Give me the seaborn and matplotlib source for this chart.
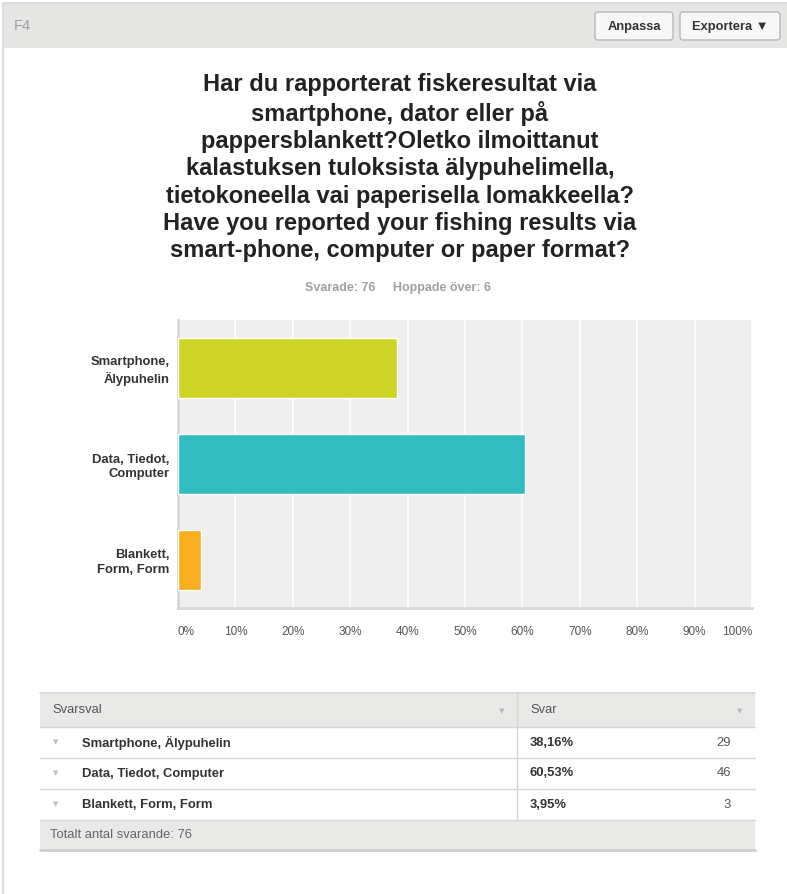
# survey result panel: horizontal bars + summary table
import matplotlib
matplotlib.use("Agg")
import matplotlib.pyplot as plt
import seaborn as sns
import pandas as pd
from matplotlib.patches import Rectangle, FancyBboxPatch
from matplotlib.lines import Line2D

# data
categories = ["Smartphone,\nÄlypuhelin", "Data, Tiedot,\nComputer", "Blankett,\nForm, Form"]
row_labels = ["Smartphone, Älypuhelin", "Data, Tiedot, Computer", "Blankett, Form, Form"]
percents = [38.16, 60.53, 3.95]
counts = [29, 46, 3]
bar_colors = ["#cfd527", "#33bdbf", "#f7ae1f"]
xticks = [0, 10, 20, 30, 40, 50, 60, 70, 80, 90, 100]
title = ("Har du rapporterat fiskeresultat via\nsmartphone, dator eller på\n"
         "pappersblankett?Oletko ilmoittanut\nkalastuksen tuloksista älypuhelimella,\n"
         "tietokoneella vai paperisella lomakkeella?\nHave you reported your fishing results via\n"
         "smart-phone, computer or paper format?")
answered = 76
skipped = 6

W, H = 787, 894

sns.set_theme(style="white")
plt.rcParams["font.family"] = ["Liberation Sans", "DejaVu Sans"]

fig = plt.figure(figsize=(W / 100, H / 100), dpi=100)


def fx(x):
    return x / W


def fy(y):
    return 1 - y / H


def rect(x0, y0, x1, y1, **kw):
    fig.patches.append(Rectangle((fx(x0), fy(y1)), fx(x1) - fx(x0), fy(y0) - fy(y1),
                                 transform=fig.transFigure, **kw))


def hline(x0, x1, y, color, lw=1):
    fig.lines.append(Line2D([fx(x0), fx(x1)], [fy(y), fy(y)], transform=fig.transFigure,
                            color=color, lw=lw))


def vline(x, y0, y1, color, lw=1):
    fig.lines.append(Line2D([fx(x), fx(x)], [fy(y0), fy(y1)], transform=fig.transFigure,
                            color=color, lw=lw))


# card frame and header strip
rect(3, 3, 787, 48, facecolor="#e6e6e4", edgecolor="none")
vline(3, 3, 894, "#dddddd", 1.5)
hline(3, 787, 3, "#dddddd", 1.5)
fig.text(fx(14), fy(26), "F4", fontsize=10.5, color="#a0a0a0", va="center")

for x0, x1, label in [(595, 673, "Anpassa"), (680, 780, "Exportera ▼")]:
    fig.patches.append(FancyBboxPatch((fx(x0), fy(40)), fx(x1) - fx(x0), fy(12) - fy(40),
                                      boxstyle="round,pad=0,rounding_size=0.004",
                                      transform=fig.transFigure, facecolor="#f7f7f7",
                                      edgecolor="#b8b8b8", lw=1))
    fig.text(fx((x0 + x1) / 2), fy(27), label, fontsize=9.3, fontweight="bold",
             color="#333333", ha="center", va="center")

# title and response counts
fig.text(fx(400), fy(73), title, fontsize=17, fontweight="bold", color="#222222",
         ha="center", va="top", linespacing=1.24)
fig.text(fx(398), fy(288), f"Svarade: {answered}     Hoppade över: {skipped}",
         fontsize=9, fontweight="bold", color="#a0a0a0", ha="center", va="center")

# bar chart
ax = fig.add_axes([fx(178), fy(608), fx(752) - fx(178), fy(320) - fy(608)])
df = pd.DataFrame({"category": categories, "percent": percents})
sns.barplot(data=df, x="percent", y="category", hue="category", palette=bar_colors,
            legend=False, width=0.625, saturation=1, ax=ax, zorder=3)
ax.set_facecolor("#efefef")
ax.set_xlim(0, 100)
ax.set_ylim(2.5, -0.5)
ax.set_xticks(xticks)
ax.grid(axis="x", color="white", lw=1.2, zorder=1)
ax.set_axisbelow(True)
for s in ["top", "right"]:
    ax.spines[s].set_visible(False)
for s in ["left", "bottom"]:
    ax.spines[s].set_color("#d8d8d8")
    ax.spines[s].set_linewidth(2)
ax.set_xlabel("")
ax.set_ylabel("")
ax.tick_params(axis="both", length=0)
ax.tick_params(axis="x", pad=13, labelsize=8.5, labelcolor="#555555")
ax.tick_params(axis="y", pad=6, labelsize=9.4, labelcolor="#333333")
ax.set_xticklabels([f"{t}%" for t in xticks])
labs = ax.get_xticklabels()
labs[0].set_ha("left")
labs[-1].set_ha("right")
for lab in ax.get_yticklabels():
    lab.set_fontweight("bold")
    lab.set_ha("right")
    lab.set_multialignment("right")
    lab.set_linespacing(1.3)

# summary table
tx0, tx1, tdiv = 40, 755, 517
rows_y = [693, 727, 758, 789, 820, 850]
rect(tx0, rows_y[0], tx1, rows_y[1], facecolor="#e9e9e7", edgecolor="none")
rect(tx0, rows_y[4], tx1, rows_y[5], facecolor="#e9e9e7", edgecolor="none")
hline(tx0, tx1, rows_y[0], "#d6d6d6", 1.2)
for y in rows_y[1:5]:
    hline(tx0, tx1, y, "#d6d6d6", 1)
hline(tx0, tx1, rows_y[5], "#cfcfcf", 2)
vline(tdiv, rows_y[0], rows_y[4], "#d6d6d6", 1)

narrow = ["Liberation Sans Narrow", "Liberation Sans", "DejaVu Sans"]
hy = (rows_y[0] + rows_y[1]) / 2
fig.text(fx(52), fy(hy), "Svarsval", fontsize=9.3, color="#555555", va="center", family=narrow)
fig.text(fx(530), fy(hy), "Svar", fontsize=9.3, color="#555555", va="center", family=narrow)
for x in [502, 740]:
    fig.text(fx(x), fy(hy + 1), "▼", fontsize=5, color="#bbbbbb", ha="center", va="center",
             family=["DejaVu Sans"])

for i, (lab, p, n) in enumerate(zip(row_labels, percents, counts)):
    cy = (rows_y[i + 1] + rows_y[i + 2]) / 2
    fig.text(fx(56), fy(cy), "▼", fontsize=5, color="#bbbbbb", ha="center", va="center",
             family=["DejaVu Sans"])
    fig.text(fx(82), fy(cy), lab, fontsize=9.4, fontweight="bold", color="#333333",
             va="center", family=narrow)
    fig.text(fx(530), fy(cy), f"{p:.2f}%".replace(".", ","), fontsize=9.4, fontweight="bold",
             color="#333333", va="center", family=narrow)
    fig.text(fx(731), fy(cy), str(n), fontsize=9.4, color="#555555", ha="right",
             va="center", family=narrow)

fy_mid = (rows_y[4] + rows_y[5]) / 2
fig.text(fx(50), fy(fy_mid), f"Totalt antal svarande: {answered}", fontsize=9.4,
         color="#666666", va="center", family=narrow)

fig.savefig("out.png", dpi=100, facecolor="white")
